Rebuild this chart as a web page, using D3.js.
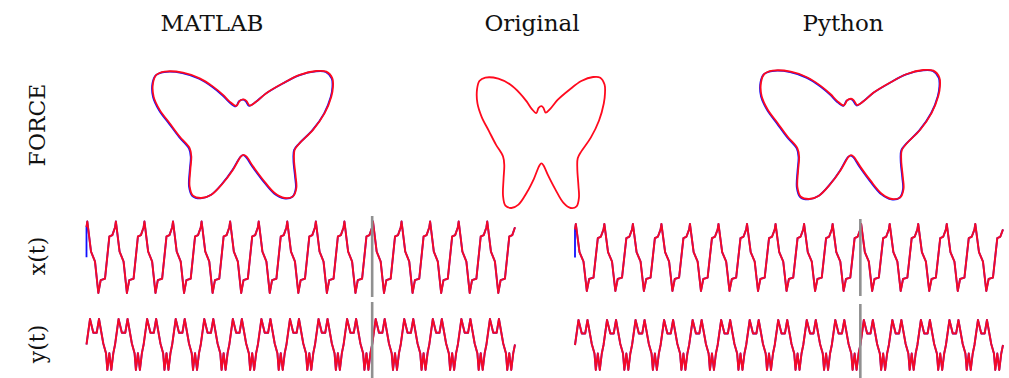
<!DOCTYPE html>
<html>
<head>
<meta charset="utf-8">
<script src="https://cdn.jsdelivr.net/npm/d3@7"></script>
<style>
  html, body { margin: 0; padding: 0; background: #fff; }
  text { font-family: "DejaVu Serif", serif; fill: #111; }
</style>
</head>
<body>
<svg id="chart" width="1009" height="378"></svg>
<script>
// column titles and row labels
const columns = ['MATLAB', 'Original', 'Python'];
const rows = ['FORCE', 'x(t)', 'y(t)'];

// butterfly outline, clockwise from the top bump (x: -1..1, y: 0..1)
const butterflyX = [0.007, 0.037, 0.074, 0.148, 0.259, 0.444, 0.630, 0.815, 0.926, 0.993, 1.0, 0.981,
  0.907, 0.778, 0.630, 0.574, 0.567, 0.585, 0.593, 0.556, 0.463, 0.352, 0.222, 0.111, 0.037, 0.007,
  -0.022, -0.111, -0.222, -0.352, -0.463, -0.556, -0.593, -0.585, -0.574, -0.593, -0.704, -0.815,
  -0.926, -0.993, -1.0, -0.963, -0.870, -0.667, -0.481, -0.333, -0.222, -0.148, -0.074, -0.037];
const butterflyY = [0.777, 0.765, 0.728, 0.759, 0.825, 0.903, 0.969, 1.0, 0.995, 0.942, 0.877, 0.798,
  0.668, 0.537, 0.432, 0.380, 0.301, 0.170, 0.079, 0.013, 0.0, 0.039, 0.144, 0.249, 0.327, 0.340,
  0.327, 0.223, 0.118, 0.026, 0.0, 0.018, 0.092, 0.223, 0.327, 0.393, 0.484, 0.589,
  0.694, 0.798, 0.903, 0.969, 0.995, 0.987, 0.942, 0.877, 0.812, 0.759, 0.725, 0.765];

// one period of each signal (phase within the period, value 0..1)
const xPhase = [0, 0.029, 0.158, 0.298, 0.414, 0.497, 0.648, 0.800, 0.905];
const xValue = [0.92, 1.0, 0.58, 0.44, 0.0, 0.18, 0.20, 0.79, 0.81];
const yPhase = [0, 0.123, 0.238, 0.357, 0.438, 0.588, 0.683, 0.729, 0.800, 0.869, 0.939];
const yValue = [0.50, 1.0, 0.73, 0.73, 1.0, 0.52, 0.33, 0.0, 0.33, 0.0, 0.33];
const nPeriods = 15;
const trainPeriods = 10;
const blueStart = 0.5; // the reconstruction starts a bit lower on x(t)

const svg = d3.select('#chart');
const RED = '#ff0a1e';
const BLUE = '#1010ff';

// titles
const titleX = [212, 532, 843];
svg.selectAll('text.title')
  .data(columns)
  .enter()
  .append('text')
  .attr('class', 'title')
  .attr('x', (d, i) => titleX[i])
  .attr('y', 31)
  .attr('text-anchor', 'middle')
  .style('font-size', '23px')
  .text(d => d);

// row labels, rotated
const rowY = [125, 256, 344];
rows.forEach((r, i) => {
  svg.append('text')
    .attr('transform', `translate(45,${rowY[i]}) rotate(-90)`)
    .attr('text-anchor', 'middle')
    .style('font-size', '22px')
    .text(r);
});

// butterflies
const outline = butterflyX.map((x, i) => [x, butterflyY[i]]);
const panels = [
  {x: [153, 333], y: [198, 71], blue: true},
  {x: [477, 605], y: [208, 77], blue: false},
  {x: [761, 940], y: [199, 70], blue: true}
];
panels.forEach(p => {
  const sx = d3.scaleLinear().domain([-1, 1]).range(p.x);
  const sy = d3.scaleLinear().domain([0, 1]).range(p.y);
  const line = d3.line()
    .x(d => sx(d[0]))
    .y(d => sy(d[1]))
    .curve(d3.curveCatmullRomClosed.alpha(0.5));
  if (p.blue) {
    svg.append('path')
      .attr('d', line(outline))
      .attr('transform', 'translate(-0.6,0.4)')
      .attr('fill', 'none')
      .attr('stroke', BLUE)
      .attr('stroke-width', 1.8);
  }
  svg.append('path')
    .attr('d', line(outline))
    .attr('fill', 'none')
    .attr('stroke', RED)
    .attr('stroke-width', 1.8);
});

// build a repeated signal from its period
const buildSeries = (phase, value) => {
  const pts = [];
  for (let k = 0; k < nPeriods; k++) {
    phase.forEach((u, i) => pts.push([k + u, value[i]]));
  }
  pts.push([nPeriods, value[0]]);
  return pts;
};
const xSeries = buildSeries(xPhase, xValue);
const ySeries = buildSeries(yPhase, yValue);
const xSeriesBlue = [[0, blueStart]].concat(xSeries);

// time-series panels
const traces = [
  {range: [86.5, 515], rows: [{y: [293, 221.5], data: xSeries, blue: xSeriesBlue, bar: [216, 297]},
                              {y: [370, 319], data: ySeries, blue: ySeries, bar: [302, 378]}]},
  {range: [575, 1003], rows: [{y: [291, 224], data: xSeries, blue: xSeriesBlue, bar: [219, 296]},
                              {y: [370, 320], data: ySeries, blue: ySeries, bar: [304, 378]}]}
];
traces.forEach(tr => {
  const sx = d3.scaleLinear().domain([0, nPeriods]).range(tr.range);
  tr.rows.forEach(r => {
    const sy = d3.scaleLinear().domain([0, 1]).range(r.y);
    const line = d3.line().x(d => sx(d[0])).y(d => sy(d[1]));
    svg.append('path')
      .attr('d', line(r.blue))
      .attr('fill', 'none')
      .attr('stroke', BLUE)
      .attr('stroke-width', 1.8)
      .attr('stroke-linejoin', 'round');
    svg.append('path')
      .attr('d', line(r.data))
      .attr('fill', 'none')
      .attr('stroke', RED)
      .attr('stroke-opacity', 0.95)
      .attr('stroke-width', 2)
      .attr('stroke-linejoin', 'round');
    // end of the training window
    svg.append('line')
      .attr('x1', sx(trainPeriods))
      .attr('x2', sx(trainPeriods))
      .attr('y1', r.bar[0])
      .attr('y2', r.bar[1])
      .attr('stroke', '#909090')
      .attr('stroke-width', 2.6);
  });
});
</script>
</body>
</html>
